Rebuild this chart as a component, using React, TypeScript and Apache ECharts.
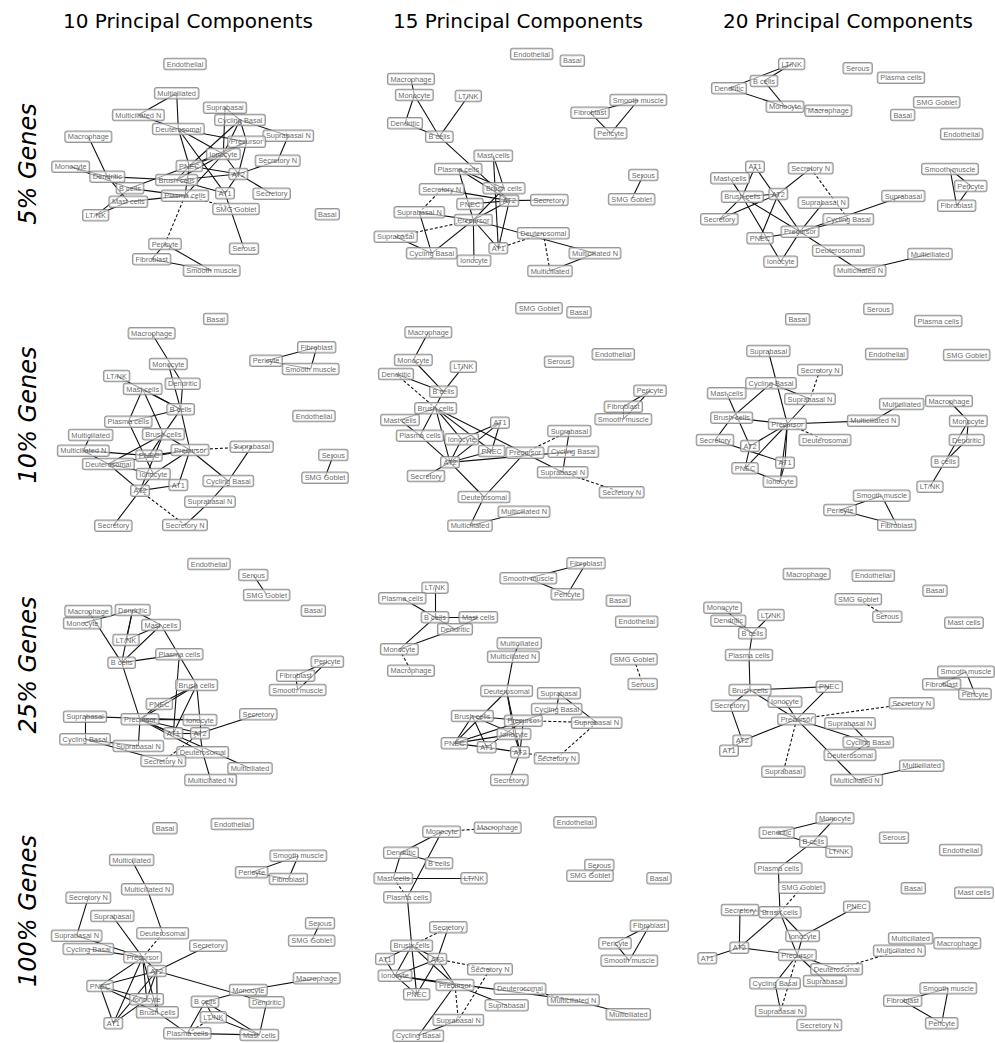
import React, { useEffect, useRef } from "react";
import * as echarts from "echarts";

type GNode = [string, number, number];
type GEdge = [string, string];

const COLUMN_TITLES = ["10 Principal Components", "15 Principal Components", "20 Principal Components"];
const ROW_TITLES = ["5% Genes", "10% Genes", "25% Genes", "100% Genes"];

// ---------- 5% genes, 10 PCs ----------
const g5pc10Nodes: GNode[] = [
  ["Endothelial", 405, 42], ["Multiciliated", 380, 130], ["Multiciliated N", 265, 195], ["Deuterosomal", 385, 237],
  ["Suprabasal", 525, 173], ["Cycling Basal", 570, 210], ["Suprabasal N", 715, 257], ["Precursor", 590, 275],
  ["Ionocyte", 520, 312], ["Secretory N", 683, 332], ["PNEC", 418, 348], ["AT2", 565, 372],
  ["Macrophage", 115, 260], ["Monocyte", 62, 350], ["Dendritic", 172, 380], ["B cells", 240, 415],
  ["Brush cells", 380, 390], ["Plasma cells", 405, 437], ["AT1", 525, 430], ["Secretory", 665, 431],
  ["Mast cells", 235, 455], ["SMG Goblet", 558, 477], ["LT/NK", 137, 496], ["Basal", 832, 493],
  ["Serous", 582, 596], ["Pericyte", 345, 582], ["Fibroblast", 305, 628], ["Smooth muscle", 485, 662],
];
const g5pc10Solid: GEdge[] = [
  ["Multiciliated", "Multiciliated N"], ["Multiciliated", "Deuterosomal"], ["Multiciliated N", "Deuterosomal"],
  ["Deuterosomal", "Precursor"], ["Deuterosomal", "PNEC"], ["Deuterosomal", "AT1"], ["Deuterosomal", "Ionocyte"],
  ["Suprabasal", "Cycling Basal"], ["Suprabasal", "Ionocyte"], ["Cycling Basal", "Suprabasal N"],
  ["Cycling Basal", "Precursor"], ["Cycling Basal", "PNEC"], ["Cycling Basal", "Ionocyte"],
  ["Suprabasal N", "Secretory N"], ["Precursor", "AT2"], ["Precursor", "PNEC"], ["Precursor", "Ionocyte"],
  ["AT2", "Secretory N"], ["AT2", "Secretory"], ["AT2", "PNEC"], ["AT2", "AT1"], ["AT2", "Ionocyte"],
  ["AT2", "Brush cells"], ["Macrophage", "Dendritic"], ["Monocyte", "B cells"], ["Monocyte", "Dendritic"],
  ["Dendritic", "Brush cells"], ["Dendritic", "Mast cells"], ["B cells", "PNEC"], ["B cells", "Plasma cells"],
  ["Mast cells", "LT/NK"], ["Mast cells", "Plasma cells"], ["LT/NK", "B cells"], ["Brush cells", "PNEC"],
  ["Brush cells", "AT1"], ["Brush cells", "Ionocyte"], ["Plasma cells", "Ionocyte"], ["Plasma cells", "PNEC"],
  ["PNEC", "Ionocyte"], ["AT1", "Serous"], ["Pericyte", "Fibroblast"], ["Pericyte", "Smooth muscle"],
  ["Fibroblast", "Smooth muscle"],
];
const g5pc10Dashed: GEdge[] = [["Plasma cells", "SMG Goblet"], ["Plasma cells", "Pericyte"]];

// ---------- 5% genes, 15 PCs ----------
const g5pc15Nodes: GNode[] = [
  ["Endothelial", 515, 42], ["Basal", 637, 62], ["Macrophage", 153, 117], ["Monocyte", 163, 165],
  ["LT/NK", 325, 168], ["Dendritic", 135, 250], ["B cells", 238, 290], ["Smooth muscle", 835, 180],
  ["Fibroblast", 690, 218], ["Pericyte", 752, 280], ["Mast cells", 400, 347], ["Plasma cells", 295, 387],
  ["Serous", 850, 405], ["Secretory N", 245, 448], ["Brush cells", 432, 445], ["PNEC", 330, 492],
  ["AT2", 448, 482], ["Secretory", 568, 480], ["SMG Goblet", 815, 478], ["Suprabasal N", 178, 517],
  ["Precursor", 340, 540], ["Deuterosomal", 550, 580], ["Suprabasal", 107, 590], ["AT1", 415, 625],
  ["Cycling Basal", 215, 640], ["Ionocyte", 342, 662], ["Multiciliated N", 705, 640], ["Multiciliated", 570, 693],
];
const g5pc15Solid: GEdge[] = [
  ["Macrophage", "Monocyte"], ["Monocyte", "Dendritic"], ["Monocyte", "B cells"], ["Dendritic", "B cells"],
  ["LT/NK", "B cells"], ["B cells", "AT2"], ["Plasma cells", "Brush cells"], ["Plasma cells", "Precursor"],
  ["Plasma cells", "AT2"], ["Mast cells", "AT1"], ["Mast cells", "Brush cells"], ["Brush cells", "Precursor"],
  ["AT2", "Secretory"], ["AT2", "Precursor"], ["AT2", "PNEC"], ["AT2", "AT1"], ["Secretory N", "AT2"],
  ["Suprabasal N", "Precursor"], ["Suprabasal N", "Cycling Basal"], ["Suprabasal", "Cycling Basal"],
  ["Cycling Basal", "Precursor"], ["Precursor", "Ionocyte"], ["Precursor", "AT1"], ["Precursor", "Multiciliated N"],
  ["Multiciliated N", "Multiciliated"], ["Smooth muscle", "Fibroblast"], ["Smooth muscle", "Pericyte"],
  ["Fibroblast", "Pericyte"], ["Serous", "SMG Goblet"],
];
const g5pc15Dashed: GEdge[] = [
  ["Secretory N", "Suprabasal N"], ["Suprabasal", "Precursor"], ["AT1", "Deuterosomal"], ["Deuterosomal", "Multiciliated"],
];

// ---------- 5% genes, 20 PCs ----------
const g5pc20Nodes: GNode[] = [
  ["LT/NK", 305, 42], ["B cells", 222, 93], ["Dendritic", 117, 115], ["Monocyte", 285, 170],
  ["Macrophage", 415, 182], ["Serous", 503, 55], ["Plasma cells", 633, 83], ["SMG Goblet", 740, 157],
  ["Basal", 638, 195], ["Endothelial", 815, 252], ["AT1", 195, 350], ["Secretory N", 362, 355],
  ["Mast cells", 120, 385], ["Smooth muscle", 780, 357], ["Pericyte", 842, 408], ["Suprabasal", 640, 438],
  ["AT2", 265, 432], ["Brush cells", 157, 440], ["Suprabasal N", 400, 458], ["Fibroblast", 800, 467],
  ["Secretory", 88, 508], ["Cycling Basal", 475, 508], ["PNEC", 210, 565], ["Precursor", 330, 545],
  ["Deuterosomal", 445, 602], ["Multiciliated", 720, 612], ["Ionocyte", 272, 635], ["Multiciliated N", 510, 662],
];
const g5pc20Solid: GEdge[] = [
  ["LT/NK", "B cells"], ["LT/NK", "Dendritic"], ["B cells", "Monocyte"], ["Dendritic", "Monocyte"],
  ["AT1", "Brush cells"], ["AT1", "Precursor"], ["AT2", "Secretory"], ["AT2", "Brush cells"], ["AT2", "PNEC"],
  ["Secretory N", "AT2"], ["Suprabasal N", "Precursor"], ["Suprabasal", "Precursor"], ["Brush cells", "Secretory"],
  ["Brush cells", "Precursor"], ["Brush cells", "Ionocyte"], ["Mast cells", "Brush cells"], ["Precursor", "PNEC"],
  ["Precursor", "Ionocyte"], ["Precursor", "Multiciliated N"], ["Precursor", "Cycling Basal"],
  ["Multiciliated N", "Multiciliated"], ["Smooth muscle", "Pericyte"], ["Smooth muscle", "Fibroblast"],
  ["Pericyte", "Fibroblast"],
];
const g5pc20Dashed: GEdge[] = [["Monocyte", "Macrophage"], ["Secretory N", "Cycling Basal"]];

// ---------- 10% genes, 10 PCs ----------
const g10pc10Nodes: GNode[] = [
  ["Basal", 497, 42], ["Macrophage", 305, 85], ["Fibroblast", 800, 127], ["Pericyte", 648, 167],
  ["Smooth muscle", 782, 192], ["Monocyte", 355, 177], ["LT/NK", 200, 213], ["Dendritic", 398, 236],
  ["Mast cells", 278, 252], ["B cells", 392, 313], ["Endothelial", 792, 333], ["Plasma cells", 235, 350],
  ["Multiciliated", 122, 390], ["Brush cells", 340, 388], ["Multiciliated N", 100, 437], ["PNEC", 297, 452],
  ["Precursor", 420, 435], ["Suprabasal", 605, 425], ["Serous", 850, 450], ["Deuterosomal", 175, 477],
  ["Ionocyte", 310, 507], ["AT1", 385, 540], ["Cycling Basal", 535, 528], ["SMG Goblet", 825, 518],
  ["AT2", 270, 557], ["Suprabasal N", 480, 590], ["Secretory", 190, 662], ["Secretory N", 405, 660],
];
const g10pc10Solid: GEdge[] = [
  ["Macrophage", "Dendritic"], ["Monocyte", "B cells"], ["Dendritic", "B cells"], ["LT/NK", "B cells"],
  ["Mast cells", "Plasma cells"], ["Mast cells", "B cells"], ["Mast cells", "Brush cells"], ["Plasma cells", "B cells"],
  ["Plasma cells", "Ionocyte"], ["B cells", "Brush cells"], ["B cells", "Precursor"], ["Brush cells", "Deuterosomal"],
  ["Brush cells", "AT2"], ["Brush cells", "PNEC"], ["Brush cells", "Precursor"], ["Multiciliated", "Multiciliated N"],
  ["Multiciliated N", "Deuterosomal"], ["Multiciliated N", "PNEC"], ["Deuterosomal", "Precursor"],
  ["Deuterosomal", "AT2"], ["Deuterosomal", "Ionocyte"], ["PNEC", "Precursor"], ["Precursor", "AT1"],
  ["Precursor", "Cycling Basal"], ["Precursor", "Ionocyte"], ["Suprabasal", "Cycling Basal"],
  ["Cycling Basal", "Suprabasal N"], ["Suprabasal N", "Secretory N"], ["AT2", "Secretory"], ["AT2", "AT1"],
  ["AT2", "Ionocyte"], ["Fibroblast", "Pericyte"], ["Fibroblast", "Smooth muscle"], ["Pericyte", "Smooth muscle"],
  ["Serous", "SMG Goblet"],
];
const g10pc10Dashed: GEdge[] = [["Precursor", "Suprabasal"], ["AT2", "Secretory N"]];

// ---------- 10% genes, 15 PCs ----------
const g10pc15Nodes: GNode[] = [
  ["SMG Goblet", 537, 40], ["Basal", 657, 52], ["Macrophage", 205, 112], ["Endothelial", 760, 178],
  ["Monocyte", 160, 195], ["Serous", 597, 200], ["LT/NK", 310, 215], ["Dendritic", 108, 237],
  ["B cells", 250, 290], ["Pericyte", 870, 287], ["Brush cells", 227, 340], ["Fibroblast", 790, 335],
  ["Mast cells", 120, 375], ["Smooth muscle", 790, 373], ["AT1", 420, 383], ["Suprabasal", 628, 408],
  ["Plasma cells", 180, 422], ["Ionocyte", 305, 433], ["PNEC", 395, 468], ["Precursor", 495, 473],
  ["Cycling Basal", 640, 470], ["AT2", 270, 502], ["Suprabasal N", 608, 532], ["Secretory", 198, 543],
  ["Secretory N", 785, 592], ["Deuterosomal", 372, 606], ["Multiciliated N", 492, 650], ["Multiciliated", 330, 692],
];
const g10pc15Solid: GEdge[] = [
  ["Macrophage", "Monocyte"], ["Monocyte", "B cells"], ["LT/NK", "B cells"], ["Dendritic", "B cells"],
  ["B cells", "Plasma cells"], ["Brush cells", "Mast cells"], ["Brush cells", "AT2"], ["Brush cells", "PNEC"],
  ["Brush cells", "Suprabasal N"], ["Brush cells", "Ionocyte"], ["Mast cells", "Plasma cells"], ["AT1", "AT2"],
  ["AT1", "Ionocyte"], ["AT1", "PNEC"], ["Plasma cells", "AT2"], ["AT2", "Secretory"], ["AT2", "Cycling Basal"],
  ["AT2", "Deuterosomal"], ["AT2", "Ionocyte"], ["AT2", "PNEC"], ["Precursor", "Deuterosomal"],
  ["Suprabasal", "Suprabasal N"], ["Deuterosomal", "Multiciliated"], ["Multiciliated", "Multiciliated N"],
  ["Pericyte", "Fibroblast"], ["Pericyte", "Smooth muscle"], ["Fibroblast", "Smooth muscle"],
];
const g10pc15Dashed: GEdge[] = [["Dendritic", "Brush cells"], ["Precursor", "Suprabasal"], ["Suprabasal N", "Secretory N"]];

// ---------- 10% genes, 20 PCs ----------
const g10pc20Nodes: GNode[] = [
  ["Serous", 565, 42], ["Basal", 323, 73], ["Plasma cells", 745, 78], ["Suprabasal", 235, 168],
  ["Endothelial", 590, 177], ["SMG Goblet", 830, 180], ["Secretory N", 390, 225], ["Cycling Basal", 243, 265],
  ["Mast cells", 110, 295], ["Suprabasal N", 360, 312], ["Multiciliated", 635, 327], ["Macrophage", 777, 318],
  ["Brush cells", 125, 368], ["Multiciliated N", 550, 377], ["Monocyte", 835, 378], ["Precursor", 292, 387],
  ["Secretory", 75, 435], ["Deuterosomal", 405, 435], ["Dendritic", 830, 435], ["AT2", 180, 453],
  ["AT1", 285, 503], ["B cells", 765, 500], ["PNEC", 165, 520], ["Ionocyte", 270, 560],
  ["LT/NK", 720, 575], ["Smooth muscle", 575, 602], ["Pericyte", 450, 645], ["Fibroblast", 620, 690],
];
const g10pc20Solid: GEdge[] = [
  ["Suprabasal", "Precursor"], ["Cycling Basal", "Brush cells"], ["Cycling Basal", "Suprabasal N"],
  ["Suprabasal N", "Precursor"], ["Mast cells", "AT2"], ["Brush cells", "Secretory"], ["Brush cells", "Precursor"],
  ["Secretory", "AT1"], ["Precursor", "AT2"], ["Precursor", "PNEC"], ["Precursor", "AT1"], ["Precursor", "Ionocyte"],
  ["Precursor", "Multiciliated N"], ["Multiciliated N", "Multiciliated"], ["PNEC", "Ionocyte"], ["AT2", "PNEC"],
  ["AT1", "Ionocyte"], ["Macrophage", "Monocyte"], ["Monocyte", "Dendritic"], ["Monocyte", "B cells"],
  ["Dendritic", "B cells"], ["B cells", "LT/NK"], ["Smooth muscle", "Pericyte"], ["Smooth muscle", "Fibroblast"],
  ["Pericyte", "Fibroblast"],
];
const g10pc20Dashed: GEdge[] = [["Secretory N", "Suprabasal N"], ["Precursor", "Deuterosomal"]];

// ---------- 25% genes, 10 PCs ----------
const g25pc10Nodes: GNode[] = [
  ["Endothelial", 477, 42], ["Serous", 610, 75], ["SMG Goblet", 650, 135], ["Macrophage", 115, 183],
  ["Dendritic", 248, 180], ["Basal", 790, 182], ["Monocyte", 97, 220], ["Mast cells", 333, 225],
  ["LT/NK", 228, 270], ["B cells", 215, 338], ["Plasma cells", 388, 313], ["Pericyte", 832, 335],
  ["Fibroblast", 737, 377], ["Smooth muscle", 743, 420], ["Brush cells", 440, 405], ["PNEC", 328, 462],
  ["Suprabasal", 105, 500], ["Secretory", 625, 493], ["Precursor", 270, 508], ["Ionocyte", 450, 510],
  ["AT1", 370, 550], ["AT2", 450, 550], ["Cycling Basal", 105, 568], ["Suprabasal N", 265, 588],
  ["Deuterosomal", 458, 607], ["Secretory N", 340, 633], ["Multiciliated", 600, 655], ["Multiciliated N", 482, 690],
];
const g25pc10Solid: GEdge[] = [
  ["Macrophage", "B cells"], ["Monocyte", "Dendritic"], ["Dendritic", "LT/NK"], ["Dendritic", "Mast cells"],
  ["Dendritic", "B cells"], ["Mast cells", "LT/NK"], ["Mast cells", "B cells"], ["Mast cells", "Brush cells"],
  ["B cells", "Plasma cells"], ["B cells", "Precursor"], ["Plasma cells", "AT1"], ["Brush cells", "PNEC"],
  ["Brush cells", "Precursor"], ["Brush cells", "Ionocyte"], ["Brush cells", "AT1"], ["Serous", "SMG Goblet"],
  ["Suprabasal", "Cycling Basal"], ["Suprabasal", "Ionocyte"], ["Cycling Basal", "Suprabasal N"],
  ["Cycling Basal", "Secretory N"], ["Precursor", "Suprabasal N"], ["Precursor", "AT1"], ["Precursor", "AT2"],
  ["Precursor", "Ionocyte"], ["Precursor", "Deuterosomal"], ["Precursor", "Multiciliated"], ["PNEC", "Precursor"],
  ["AT2", "Secretory"], ["AT2", "Ionocyte"], ["AT1", "AT2"], ["AT2", "Deuterosomal"],
  ["Deuterosomal", "Multiciliated N"], ["Pericyte", "Fibroblast"], ["Pericyte", "Smooth muscle"],
  ["Fibroblast", "Smooth muscle"],
];
const g25pc10Dashed: GEdge[] = [["AT2", "Secretory N"]];

// ---------- 25% genes, 15 PCs ----------
const g25pc15Nodes: GNode[] = [
  ["Fibroblast", 678, 40], ["Smooth muscle", 505, 85], ["LT/NK", 225, 113], ["Pericyte", 622, 133],
  ["Plasma cells", 127, 145], ["Basal", 775, 152], ["B cells", 225, 202], ["Mast cells", 355, 202],
  ["Endothelial", 830, 215], ["Dendritic", 285, 238], ["Multiciliated", 478, 280], ["Monocyte", 118, 298],
  ["Multiciliated N", 460, 320], ["SMG Goblet", 822, 328], ["Macrophage", 153, 362], ["Serous", 848, 402],
  ["Deuterosomal", 440, 423], ["Suprabasal", 597, 430], ["Cycling Basal", 590, 477], ["Brush cells", 337, 498],
  ["Precursor", 490, 512], ["Suprabasal N", 710, 518], ["PNEC", 283, 580], ["Ionocyte", 462, 552],
  ["AT1", 380, 592], ["AT2", 480, 607], ["Secretory N", 590, 625], ["Secretory", 448, 690],
];
const g25pc15Solid: GEdge[] = [
  ["LT/NK", "B cells"], ["B cells", "Monocyte"], ["B cells", "Mast cells"], ["B cells", "Dendritic"],
  ["Mast cells", "Dendritic"], ["Monocyte", "Dendritic"], ["Plasma cells", "B cells"], ["Fibroblast", "Smooth muscle"],
  ["Fibroblast", "Pericyte"], ["Smooth muscle", "Pericyte"], ["Multiciliated", "Multiciliated N"],
  ["Multiciliated N", "Deuterosomal"], ["Deuterosomal", "PNEC"], ["Deuterosomal", "AT2"], ["Deuterosomal", "Ionocyte"],
  ["Suprabasal", "Cycling Basal"], ["Suprabasal", "Suprabasal N"], ["Cycling Basal", "Precursor"],
  ["Brush cells", "PNEC"], ["Brush cells", "AT1"], ["Brush cells", "Ionocyte"], ["Brush cells", "Precursor"],
  ["PNEC", "Precursor"], ["PNEC", "AT1"], ["PNEC", "Ionocyte"], ["AT1", "AT2"], ["Ionocyte", "AT2"],
  ["AT2", "Secretory"], ["Precursor", "AT2"], ["Precursor", "AT1"],
];
const g25pc15Dashed: GEdge[] = [
  ["Monocyte", "Macrophage"], ["SMG Goblet", "Serous"], ["Precursor", "Suprabasal N"],
  ["Suprabasal N", "Secretory N"], ["Secretory N", "AT2"],
];

// ---------- 25% genes, 20 PCs ----------
const g25pc20Nodes: GNode[] = [
  ["Macrophage", 350, 57], ["Endothelial", 550, 62], ["Basal", 735, 107], ["SMG Goblet", 505, 133],
  ["Monocyte", 98, 158], ["LT/NK", 243, 180], ["Dendritic", 115, 197], ["Serous", 592, 185],
  ["Mast cells", 822, 203], ["B cells", 187, 235], ["Plasma cells", 177, 300], ["Smooth muscle", 828, 350],
  ["Fibroblast", 755, 388], ["PNEC", 418, 395], ["Brush cells", 180, 405], ["Pericyte", 855, 417],
  ["Ionocyte", 285, 440], ["Secretory N", 665, 445], ["Secretory", 120, 452], ["Precursor", 320, 493],
  ["Suprabasal N", 480, 505], ["AT2", 157, 557], ["Cycling Basal", 535, 562], ["AT1", 117, 587],
  ["Deuterosomal", 480, 600], ["Suprabasal", 280, 650], ["Multiciliated", 695, 632], ["Multiciliated N", 500, 675],
];
const g25pc20Solid: GEdge[] = [
  ["Monocyte", "B cells"], ["Dendritic", "B cells"], ["LT/NK", "B cells"], ["B cells", "Plasma cells"],
  ["Plasma cells", "Brush cells"], ["Brush cells", "Precursor"], ["Brush cells", "Secretory"], ["Brush cells", "PNEC"],
  ["PNEC", "Precursor"], ["Ionocyte", "Precursor"], ["Secretory", "AT2"], ["AT2", "Precursor"], ["AT2", "AT1"],
  ["Precursor", "Cycling Basal"], ["Precursor", "Multiciliated N"], ["Cycling Basal", "Deuterosomal"],
  ["Cycling Basal", "Suprabasal N"], ["Multiciliated N", "Multiciliated"], ["Smooth muscle", "Fibroblast"],
  ["Smooth muscle", "Pericyte"], ["Fibroblast", "Pericyte"],
];
const g25pc20Dashed: GEdge[] = [["SMG Goblet", "Serous"], ["Precursor", "Secretory N"], ["Precursor", "Suprabasal"]];

// ---------- 100% genes, 10 PCs ----------
const g100pc10Nodes: GNode[] = [
  ["Basal", 345, 70], ["Endothelial", 547, 57], ["Smooth muscle", 745, 152], ["Multiciliated", 245, 165],
  ["Pericyte", 605, 202], ["Fibroblast", 715, 222], ["Multiciliated N", 292, 253], ["Secretory N", 115, 278],
  ["Suprabasal", 187, 333], ["Serous", 810, 355], ["Suprabasal N", 80, 392], ["Deuterosomal", 338, 385],
  ["SMG Goblet", 785, 407], ["Secretory", 475, 422], ["Cycling Basal", 115, 432], ["Precursor", 278, 457],
  ["AT2", 320, 498], ["Macrophage", 800, 520], ["PNEC", 150, 543], ["Monocyte", 595, 555],
  ["B cells", 465, 590], ["Ionocyte", 290, 583], ["Dendritic", 650, 592], ["Brush cells", 322, 622],
  ["LT/NK", 490, 637], ["AT1", 190, 655], ["Plasma cells", 412, 685], ["Mast cells", 628, 690],
];
const g100pc10Solid: GEdge[] = [
  ["Multiciliated", "Multiciliated N"], ["Multiciliated N", "Deuterosomal"], ["Secretory N", "Suprabasal N"],
  ["Cycling Basal", "Precursor"], ["Suprabasal N", "Precursor"], ["Suprabasal", "Precursor"], ["Precursor", "PNEC"],
  ["Precursor", "AT1"], ["Precursor", "Ionocyte"], ["Precursor", "Brush cells"], ["Precursor", "AT2"],
  ["AT2", "Secretory"], ["AT2", "PNEC"], ["AT2", "AT1"], ["AT2", "Ionocyte"], ["AT2", "Brush cells"],
  ["AT2", "Dendritic"], ["PNEC", "AT1"], ["PNEC", "Ionocyte"], ["PNEC", "Brush cells"], ["AT1", "Ionocyte"],
  ["Monocyte", "Macrophage"], ["Monocyte", "B cells"], ["B cells", "LT/NK"], ["B cells", "Plasma cells"],
  ["B cells", "Mast cells"], ["LT/NK", "Mast cells"], ["Dendritic", "Mast cells"], ["Plasma cells", "Mast cells"],
  ["Brush cells", "Plasma cells"], ["Smooth muscle", "Pericyte"], ["Smooth muscle", "Fibroblast"],
  ["Pericyte", "Fibroblast"], ["Serous", "SMG Goblet"],
];
const g100pc10Dashed: GEdge[] = [["Deuterosomal", "Precursor"], ["Plasma cells", "LT/NK"]];

// ---------- 100% genes, 15 PCs ----------
const g100pc15Nodes: GNode[] = [
  ["Monocyte", 245, 80], ["Macrophage", 413, 68], ["Endothelial", 645, 52], ["Dendritic", 123, 143],
  ["B cells", 237, 175], ["Serous", 718, 180], ["SMG Goblet", 690, 212], ["Basal", 897, 220],
  ["Mast cells", 100, 220], ["LT/NK", 342, 220], ["Plasma cells", 142, 277], ["Fibroblast", 868, 362],
  ["Secretory", 265, 367], ["Pericyte", 765, 415], ["Brush cells", 155, 422], ["AT1", 75, 462],
  ["AT2", 232, 462], ["Smooth muscle", 808, 467], ["Secretory N", 390, 493], ["Ionocyte", 105, 512],
  ["Precursor", 285, 540], ["Deuterosomal", 480, 551], ["PNEC", 170, 568], ["Multiciliated N", 640, 585],
  ["Suprabasal", 440, 601], ["Multiciliated", 805, 628], ["Suprabasal N", 295, 645], ["Cycling Basal", 175, 692],
];
const g100pc15Solid: GEdge[] = [
  ["Monocyte", "Dendritic"], ["Monocyte", "Plasma cells"], ["Dendritic", "B cells"], ["Dendritic", "Mast cells"],
  ["Mast cells", "LT/NK"], ["Plasma cells", "Brush cells"], ["Brush cells", "AT1"], ["Brush cells", "Ionocyte"],
  ["Brush cells", "PNEC"], ["Brush cells", "Precursor"], ["Brush cells", "AT2"], ["AT2", "Secretory"],
  ["AT2", "Ionocyte"], ["AT2", "PNEC"], ["AT2", "Precursor"], ["Ionocyte", "Precursor"],
  ["Ionocyte", "Multiciliated N"], ["Multiciliated N", "Multiciliated"], ["Precursor", "Suprabasal"],
  ["Precursor", "Cycling Basal"], ["Suprabasal N", "Cycling Basal"], ["Fibroblast", "Pericyte"],
  ["Fibroblast", "Smooth muscle"], ["Pericyte", "Smooth muscle"], ["Serous", "SMG Goblet"], ["AT1", "Ionocyte"],
  ["Ionocyte", "PNEC"],
];
const g100pc15Dashed: GEdge[] = [
  ["Monocyte", "Macrophage"], ["Mast cells", "Plasma cells"], ["Brush cells", "Secretory"], ["AT2", "Secretory N"],
  ["Multiciliated N", "Deuterosomal"], ["Precursor", "Suprabasal N"], ["Secretory N", "Suprabasal N"],
];

// ---------- 100% genes, 20 PCs ----------
const g100pc20Nodes: GNode[] = [
  ["Monocyte", 435, 40], ["Dendritic", 260, 83], ["B cells", 370, 110], ["Serous", 612, 98],
  ["LT/NK", 447, 140], ["Endothelial", 812, 135], ["Plasma cells", 265, 190], ["SMG Goblet", 335, 248],
  ["Basal", 670, 250], ["Mast cells", 852, 263], ["PNEC", 500, 305], ["Secretory", 150, 315],
  ["Brush cells", 270, 322], ["Ionocyte", 338, 393], ["Multiciliated", 662, 400], ["Macrophage", 802, 415],
  ["AT2", 148, 428], ["Multiciliated N", 628, 437], ["AT1", 52, 460], ["Precursor", 322, 450],
  ["Deuterosomal", 440, 493], ["Suprabasal", 405, 528], ["Cycling Basal", 255, 535], ["Smooth muscle", 775, 550],
  ["Fibroblast", 638, 587], ["Suprabasal N", 272, 618], ["Pericyte", 755, 655], ["Secretory N", 388, 660],
];
const g100pc20Solid: GEdge[] = [
  ["Monocyte", "Dendritic"], ["Monocyte", "B cells"], ["Dendritic", "LT/NK"], ["B cells", "Plasma cells"],
  ["Plasma cells", "Brush cells"], ["Secretory", "AT2"], ["Brush cells", "AT2"], ["Brush cells", "Ionocyte"],
  ["Brush cells", "Precursor"], ["PNEC", "Ionocyte"], ["Ionocyte", "Precursor"], ["AT2", "AT1"],
  ["AT2", "Precursor"], ["Precursor", "Deuterosomal"], ["Precursor", "Suprabasal"], ["Precursor", "Cycling Basal"],
  ["Cycling Basal", "Suprabasal N"], ["Smooth muscle", "Fibroblast"], ["Smooth muscle", "Pericyte"],
  ["Fibroblast", "Pericyte"],
];
const g100pc20Dashed: GEdge[] = [
  ["SMG Goblet", "Brush cells"], ["Secretory", "Brush cells"], ["Precursor", "Suprabasal N"],
  ["Deuterosomal", "Multiciliated N"],
];

// Panels in row-major order (rows: % genes, columns: number of PCs)
const PANELS = [
  { nodes: g5pc10Nodes, solid: g5pc10Solid, dashed: g5pc10Dashed },
  { nodes: g5pc15Nodes, solid: g5pc15Solid, dashed: g5pc15Dashed },
  { nodes: g5pc20Nodes, solid: g5pc20Solid, dashed: g5pc20Dashed },
  { nodes: g10pc10Nodes, solid: g10pc10Solid, dashed: g10pc10Dashed },
  { nodes: g10pc15Nodes, solid: g10pc15Solid, dashed: g10pc15Dashed },
  { nodes: g10pc20Nodes, solid: g10pc20Solid, dashed: g10pc20Dashed },
  { nodes: g25pc10Nodes, solid: g25pc10Solid, dashed: g25pc10Dashed },
  { nodes: g25pc15Nodes, solid: g25pc15Solid, dashed: g25pc15Dashed },
  { nodes: g25pc20Nodes, solid: g25pc20Solid, dashed: g25pc20Dashed },
  { nodes: g100pc10Nodes, solid: g100pc10Solid, dashed: g100pc10Dashed },
  { nodes: g100pc15Nodes, solid: g100pc15Solid, dashed: g100pc15Dashed },
  { nodes: g100pc20Nodes, solid: g100pc20Solid, dashed: g100pc20Dashed },
];

// Layout: pixel box of each panel (row-major); layout units are 3 per pixel
const LAYOUT_UNITS_PER_PX = 3;
const PANEL_BOXES = [
  [50, 50, 300, 240], [360, 40, 320, 250], [690, 50, 305, 240],
  [50, 305, 300, 235], [360, 295, 320, 240], [690, 295, 305, 245],
  [50, 550, 300, 240], [360, 550, 320, 240], [690, 555, 305, 240],
  [50, 805, 300, 238], [360, 805, 320, 238], [690, 805, 305, 238],
];
const TITLE_X = [188, 518, 848];
const ROW_LABEL_Y = [164, 415, 665, 911];

function buildOption() {
  const grid: any[] = [];
  const xAxis: any[] = [];
  const yAxis: any[] = [];
  const series: any[] = [];
  PANELS.forEach((p, i) => {
    const [bx, by, bw, bh] = PANEL_BOXES[i];
    grid.push({ left: bx, top: by, width: bw, height: bh, containLabel: false });
    xAxis.push({ type: "value", gridIndex: i, min: 0, max: bw * LAYOUT_UNITS_PER_PX, show: false });
    yAxis.push({ type: "value", gridIndex: i, min: 0, max: bh * LAYOUT_UNITS_PER_PX, inverse: true, show: false });
    const data = p.nodes.map((n) => ({ name: n[0], value: [n[1], n[2]] }));
    const links = [
      ...p.solid.map(([s, t]) => ({ source: s, target: t, lineStyle: { type: "solid" } })),
      ...p.dashed.map(([s, t]) => ({ source: s, target: t, lineStyle: { type: [3, 2] } })),
    ];
    series.push({
      type: "graph",
      layout: "none",
      coordinateSystem: "cartesian2d",
      xAxisIndex: i,
      yAxisIndex: i,
      symbolSize: 0,
      silent: true,
      data,
      links,
      label: { show: false },
      lineStyle: { color: "#111", width: 1.1, opacity: 1, curveness: 0 },
      z: 1,
    });
    series.push({
      type: "scatter",
      xAxisIndex: i,
      yAxisIndex: i,
      symbol: "circle",
      symbolSize: 1,
      silent: true,
      color: "#444",
      itemStyle: { color: "rgba(0,0,0,0)" },
      data,
      label: {
        show: true,
        position: "inside",
        formatter: (prm: any) => prm.name,
        fontSize: 7.4,
        fontFamily: "'Liberation Sans Narrow', 'Liberation Sans'",
        color: "#3c3c3c",
        textBorderWidth: 0,
        textBorderColor: "transparent",
        textShadowBlur: 0,
        backgroundColor: "rgba(255,255,255,0.72)",
        borderColor: "#7d7d7d",
        borderWidth: 1,
        borderRadius: 2,
        padding: [2, 2.5, 1.5, 2.5],
      },
      z: 5,
    });
  });

  const graphic: any[] = [];
  COLUMN_TITLES.forEach((t, c) => {
    graphic.push({
      type: "text",
      x: TITLE_X[c],
      y: 21,
      style: {
        text: t,
        fontSize: 20,
        fontFamily: "DejaVu Sans",
        fill: "#000",
        align: "center",
        verticalAlign: "middle",
      },
    });
  });
  ROW_TITLES.forEach((t, r) => {
    graphic.push({
      type: "text",
      x: 28,
      y: ROW_LABEL_Y[r],
      rotation: Math.PI / 2,
      style: {
        text: t,
        fontSize: 24,
        fontStyle: "italic",
        fontFamily: "DejaVu Sans",
        fill: "#000",
        align: "center",
        verticalAlign: "middle",
      },
    });
  });

  return {
    animation: false,
    backgroundColor: "#fff",
    grid,
    xAxis,
    yAxis,
    series,
    graphic,
  };
}

export default function App() {
  const ref = useRef<HTMLDivElement>(null);
  useEffect(() => {
    if (!ref.current) return;
    const chart = echarts.init(ref.current, undefined, { renderer: "svg" });
    chart.setOption(buildOption() as any);
    return () => chart.dispose();
  }, []);
  return (
    <div
      ref={ref}
      style={{ position: "absolute", left: 0, top: 0, width: 995, height: 1043, background: "#fff" }}
    />
  );
}
